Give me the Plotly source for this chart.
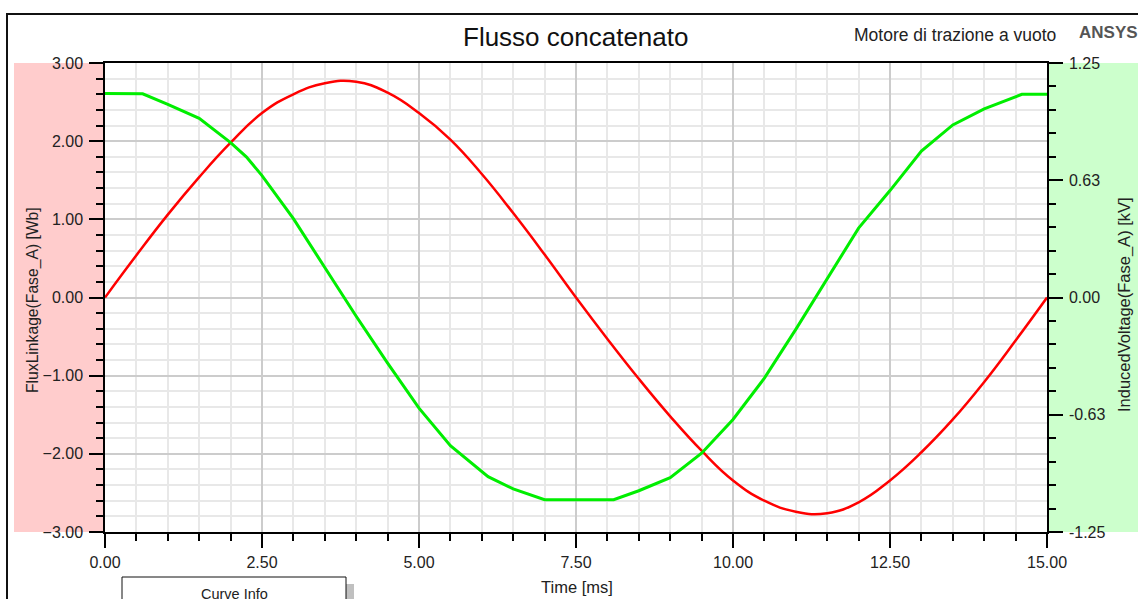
import plotly.graph_objects as go

# ---- data -------------------------------------------------------------
# Flux linkage of phase A [Wb], sampled every 0.5 ms
time_flux = [0.0, 0.5, 1.0, 1.5, 2.0, 2.5, 3.0, 3.5, 4.0, 4.5, 5.0, 5.5, 6.0, 6.5, 7.0, 7.5,
             8.0, 8.5, 9.0, 9.5, 10.0, 10.5, 11.0, 11.5, 12.0, 12.5, 13.0, 13.5, 14.0, 14.5, 15.0]
flux_linkage = [0.00, 0.54, 1.06, 1.54, 1.98, 2.36, 2.60, 2.74, 2.76, 2.62, 2.36, 2.02, 1.58, 1.08, 0.55, 0.00,
                -0.53, -1.04, -1.52, -1.96, -2.34, -2.60, -2.74, -2.76, -2.62, -2.34, -1.98, -1.56, -1.08, -0.55, 0.00]

# Induced voltage of phase A [kV]
time_volt = [0.0, 0.6, 1.0, 1.5, 2.0, 2.25, 2.5, 3.0, 3.5, 4.0, 4.5, 5.0, 5.5, 6.1, 6.5, 7.0,
             8.1, 8.5, 9.0, 9.5, 10.0, 10.5, 11.0, 11.5, 12.0, 12.5, 13.0, 13.5, 14.0, 14.3, 14.6, 15.0]
induced_voltage = [1.088, 1.086, 1.03, 0.955, 0.826, 0.75, 0.65, 0.42, 0.16, -0.10, -0.35, -0.59, -0.79, -0.955,
                   -1.02, -1.078, -1.078, -1.03, -0.96, -0.83, -0.65, -0.43, -0.17, 0.10, 0.37, 0.57, 0.78,
                   0.92, 1.005, 1.044, 1.083, 1.083]

volt_tick_vals = [-1.25, -0.625, 0.0, 0.625, 1.25]
volt_tick_text = ["-1.25", "-0.63", "0.00", "0.63", "1.25"]

# ---- geometry helpers (plot area in pixels) ---------------------------
W_FIG, H_FIG = 1138, 599
L, R, T, B = 105, 1047, 63, 532


def px(x):
    return (x - L) / (R - L)


def py(y):
    return (B - y) / (B - T)


FONT = "Liberation Sans, Arial, sans-serif"
TICK_FONT = dict(family=FONT, size=16, color="#222222")

fig = go.Figure()

fig.add_trace(go.Scatter(
    x=time_flux, y=flux_linkage, mode="lines",
    line=dict(color="#FF0000", width=2.5, shape="spline", smoothing=1.3),
    name="FluxLinkage(Fase_A)", yaxis="y",
))
fig.add_trace(go.Scatter(
    x=time_volt, y=induced_voltage, mode="lines",
    line=dict(color="#00EE00", width=3),
    name="InducedVoltage(Fase_A)", yaxis="y2",
))

fig.update_layout(
    width=W_FIG, height=H_FIG,
    margin=dict(l=L, r=W_FIG - R, t=T, b=H_FIG - B),
    paper_bgcolor="white", plot_bgcolor="white",
    showlegend=False,
    xaxis=dict(
        range=[0, 15], dtick=2.5, tickformat=".2f",
        showline=True, linecolor="black", linewidth=1.5, mirror=True,
        ticks="outside", ticklen=14, tickcolor="black", tickwidth=1.5,
        showgrid=True, gridcolor="#cccccc", gridwidth=1.5,
        minor=dict(dtick=0.5, ticks="outside", ticklen=7, tickcolor="black", tickwidth=1.5,
                   showgrid=True, gridcolor="#e8e8e8", gridwidth=1.5),
        zeroline=False, tickfont=TICK_FONT, ticklabelstandoff=1,
    ),
    yaxis=dict(
        range=[-3, 3], dtick=1, tickformat=".2f",
        showline=True, linecolor="black", linewidth=1.5,
        ticks="outside", ticklen=14, tickcolor="black", tickwidth=1.5,
        showgrid=True, gridcolor="#cccccc", gridwidth=1.5,
        minor=dict(dtick=0.2, ticks="outside", ticklen=7, tickcolor="black", tickwidth=1.5,
                   showgrid=True, gridcolor="#e8e8e8", gridwidth=1.5),
        zeroline=False, tickfont=TICK_FONT, ticklabelstandoff=3,
    ),
    yaxis2=dict(
        range=[-1.25, 1.25], overlaying="y", side="right",
        tickvals=volt_tick_vals, ticktext=volt_tick_text,
        showline=True, linecolor="black", linewidth=1.5,
        ticks="outside", ticklen=14, tickcolor="black", tickwidth=1.5,
        minor=dict(dtick=0.125, ticks="outside", ticklen=7, tickcolor="black", tickwidth=1.5,
                   showgrid=False),
        showgrid=False, zeroline=False, tickfont=TICK_FONT, ticklabelstandoff=3,
    ),
)

shapes = [
    # coloured bands behind the two value axes
    dict(type="rect", xref="paper", yref="paper", layer="below",
         x0=px(14), x1=px(105), y0=py(532), y1=py(63),
         fillcolor="#FFCCCC", line=dict(width=0)),
    dict(type="rect", xref="paper", yref="paper", layer="below",
         x0=px(1047), x1=px(1145), y0=py(532), y1=py(63),
         fillcolor="#CCFFCC", line=dict(width=0)),
    # outer frame of the report window
    dict(type="rect", xref="paper", yref="paper", layer="above",
         x0=px(7), x1=px(1150), y0=py(620), y1=py(14),
         fillcolor="rgba(0,0,0,0)", line=dict(color="#111111", width=2)),
    # "Curve Info" panel with its drop shadow
    dict(type="rect", xref="paper", yref="paper", layer="above",
         x0=px(346), x1=px(354), y0=py(620), y1=py(584),
         fillcolor="#c0c0c0", line=dict(width=0)),
    dict(type="rect", xref="paper", yref="paper", layer="above",
         x0=px(122), x1=px(346), y0=py(620), y1=py(577),
         fillcolor="white", line=dict(color="#111111", width=1)),
]
fig.update_layout(shapes=shapes)

annotations = [
    dict(text="Flusso concatenato", x=px(575), y=py(37),
         font=dict(family=FONT, size=26, color="#111111")),
    dict(text="Motore di trazione a vuoto", x=px(955), y=py(35),
         font=dict(family=FONT, size=17.5, color="#222222")),
    dict(text="<b>ANSYS</b>", x=px(1108), y=py(32),
         font=dict(family=FONT, size=17, color="#555555")),
    dict(text="Time [ms]", x=px(577), y=py(587),
         font=dict(family=FONT, size=16.5, color="#222222")),
    dict(text="FluxLinkage(Fase_A) [Wb]", x=px(33), y=py(300), textangle=-90,
         font=dict(family=FONT, size=15.7, color="#222222")),
    dict(text="InducedVoltage(Fase_A) [kV]", x=px(1124), y=py(305), textangle=-90,
         font=dict(family=FONT, size=16.5, color="#222222")),
    dict(text="Curve Info", x=px(234), y=py(594),
         font=dict(family=FONT, size=14.5, color="#222222")),
]
for a in annotations:
    a.update(xref="paper", yref="paper", xanchor="center", yanchor="middle", showarrow=False)
fig.update_layout(annotations=annotations)

fig.write_html("out.html", config={"displayModeBar": False})
